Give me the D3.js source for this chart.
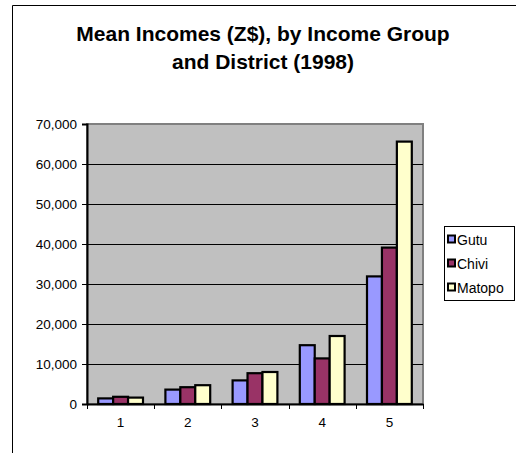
<!DOCTYPE html>
<html>
<head>
<meta charset="utf-8">
<script src="https://cdn.jsdelivr.net/npm/d3@7"></script>
<style>
  html, body { margin: 0; padding: 0; background: #fff; }
  svg { display: block; }
  text { font-family: "Liberation Sans", Arial, sans-serif; }
</style>
</head>
<body>
<svg id="chart" width="516" height="453"></svg>
<script>
const titleLines = ["Mean Incomes (Z$), by Income Group", "and District (1998)"];
const categories = ["1", "2", "3", "4", "5"];
const seriesNames = ["Gutu", "Chivi", "Matopo"];
const gutu = [1400, 3600, 5900, 14700, 31900];
const chivi = [1800, 4200, 7700, 11400, 39100];
const matopo = [1600, 4700, 8000, 17000, 65600];
const seriesColors = ["#9999FF", "#993366", "#FFFFCC"];
const yTicks = [0, 10000, 20000, 30000, 40000, 50000, 60000, 70000];

const seriesValues = [gutu, chivi, matopo];
const svg = d3.select("#chart");
const FONT = "Liberation Sans, Arial, sans-serif";

// chart area border (left and top visible)
svg.append("line").attr("x1", 12.5).attr("y1", 5.5).attr("x2", 12.5).attr("y2", 460)
  .attr("stroke", "#000").attr("stroke-width", 1);
svg.append("line").attr("x1", 12.5).attr("y1", 5.5).attr("x2", 520).attr("y2", 5.5)
  .attr("stroke", "#000").attr("stroke-width", 1);

// title
svg.append("text").attr("x", 263).attr("y", 41).attr("text-anchor", "middle")
  .attr("font-size", 21).attr("font-weight", "bold").text(titleLines[0]);
svg.append("text").attr("x", 263).attr("y", 69).attr("text-anchor", "middle")
  .attr("font-size", 21).attr("font-weight", "bold").text(titleLines[1]);

const plot = { left: 87, right: 423, top: 124, bottom: 404 };

const x0 = d3.scaleBand().domain(categories).range([plot.left, plot.right]).padding(0);
const x1 = d3.scaleBand().domain(seriesNames).range([0, x0.bandwidth()])
  .paddingInner(0).paddingOuter(0.75);
const y = d3.scaleLinear().domain([0, 70000]).range([plot.bottom, plot.top]);

// plot area
svg.append("rect").attr("x", plot.left).attr("y", plot.top)
  .attr("width", plot.right - plot.left).attr("height", plot.bottom - plot.top)
  .attr("fill", "#C0C0C0").attr("stroke", "#808080").attr("stroke-width", 2);

// gridlines
svg.append("g").selectAll("line").data(yTicks.filter(d => d > 0 && d < 70000)).join("line")
  .attr("x1", plot.left).attr("x2", plot.right)
  .attr("y1", d => Math.round(y(d)) + 0.5).attr("y2", d => Math.round(y(d)) + 0.5)
  .attr("stroke", "#000").attr("stroke-width", 1);

// bars
const groups = svg.append("g").selectAll("g").data(categories).join("g")
  .attr("transform", d => `translate(${x0(d)},0)`);
groups.selectAll("rect")
  .data((c, i) => seriesNames.map((s, j) => ({ s, j, v: seriesValues[j][i] })))
  .join("rect")
  .attr("x", d => x1(d.s))
  .attr("width", x1.bandwidth())
  .attr("y", d => y(d.v))
  .attr("height", d => y(0) - y(d.v))
  .attr("fill", d => seriesColors[d.j])
  .attr("stroke", "#000").attr("stroke-width", 2.2);

// y axis
const yAxis = d3.axisLeft(y).tickValues(yTicks).tickFormat(d3.format(",")).tickSize(5).tickPadding(5);
const gy = svg.append("g").attr("transform", `translate(${plot.left},0)`).call(yAxis);
gy.select(".domain").attr("stroke", "#000").attr("stroke-width", 2);
gy.selectAll(".tick line").attr("stroke", "#000").attr("stroke-width", 1);
gy.selectAll(".tick text").attr("font-size", 13.5).attr("fill", "#000")
  .attr("font-family", FONT);

// x axis
const xAxis = d3.axisBottom(x0).tickSize(0).tickPadding(13);
const gx = svg.append("g").attr("transform", `translate(0,${plot.bottom})`).call(xAxis);
gx.select(".domain").attr("stroke", "#000").attr("stroke-width", 2);
gx.selectAll(".tick text").attr("font-size", 13.5).attr("fill", "#000")
  .attr("font-family", FONT);
// category boundary ticks
gx.append("g").selectAll("line")
  .data(categories.map(c => x0(c)).concat([plot.right]))
  .join("line")
  .attr("x1", d => Math.round(d) + 0.5).attr("x2", d => Math.round(d) + 0.5)
  .attr("y1", 0).attr("y2", 5)
  .attr("stroke", "#000").attr("stroke-width", 1);

// legend
const lg = svg.append("g");
lg.append("rect").attr("x", 444.5).attr("y", 226.5).attr("width", 70).attr("height", 74)
  .attr("fill", "#fff").attr("stroke", "#000").attr("stroke-width", 1);
const rowY = [239.5, 263.5, 287.5];
seriesNames.forEach((s, j) => {
  lg.append("rect").attr("x", 448).attr("y", rowY[j] - 4).attr("width", 7).attr("height", 7)
    .attr("fill", seriesColors[j]).attr("stroke", "#000").attr("stroke-width", 2);
  lg.append("text").attr("x", 457).attr("y", rowY[j] + 5).attr("font-size", 14)
    .attr("fill", "#000").attr("font-family", FONT).text(s);
});
</script>
</body>
</html>
